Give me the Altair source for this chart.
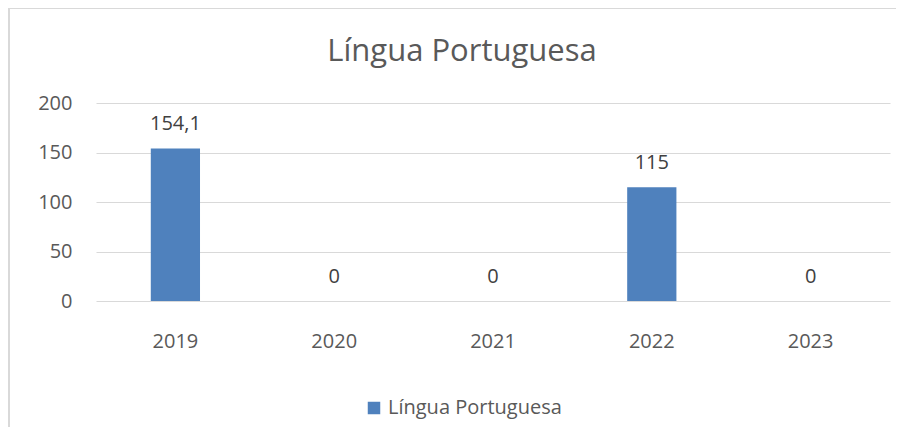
import altair as alt
import pandas as pd

anos = ["2019", "2020", "2021", "2022", "2023"]
valores = [154.1, 0, 0, 115, 0]
serie = "Língua Portuguesa"
titulo = "Língua Portuguesa"
y_ticks = [0, 50, 100, 150, 200]

FONT = "Open Sans"
GRAY = "#595959"
BLUE = "#4F81BD"

df = pd.DataFrame({"ano": anos, "valor": valores, "serie": [serie] * len(anos)})

base = alt.Chart(df)

x = alt.X(
    "ano:N",
    sort=anos,
    scale=alt.Scale(paddingInner=0.69, paddingOuter=0.345),
    axis=alt.Axis(
        title=None, labelAngle=0, domain=False, ticks=False, grid=False,
        labelFontSize=20, labelFont=FONT, labelColor=GRAY, labelPadding=30,
    ),
)

bars = base.mark_bar(color=BLUE).encode(
    x=x,
    y=alt.Y(
        "valor:Q",
        scale=alt.Scale(domain=[0, 200], nice=False),
        axis=alt.Axis(
            title=None, values=y_ticks, domain=False, ticks=False,
            gridColor="#d9d9d9", gridWidth=1,
            labelFontSize=20, labelFont=FONT, labelColor=GRAY, labelPadding=24,
        ),
    ),
    color=alt.Color(
        "serie:N",
        scale=alt.Scale(range=[BLUE]),
        legend=alt.Legend(
            title=None, orient="none", legendX=268, legendY=295,
            symbolType="square", symbolSize=156, symbolStrokeWidth=0,
            labelFontSize=20, labelFont=FONT, labelColor=GRAY, labelOffset=4,
            labelLimit=0, padding=0,
        ),
    ),
)

labels = base.transform_calculate(
    rotulo="replace(format(datum.valor, '.1~f'), '.', ',')"
).mark_text(
    baseline="middle", dy=-24, fontSize=20, font=FONT, color="#404040"
).encode(
    x=alt.X("ano:N", sort=anos),
    y="valor:Q",
    text="rotulo:N",
)

deco = alt.Data(values=[{"t": titulo}])

border = alt.Chart(deco).mark_rect(
    fill="transparent", stroke="#d9d9d9", strokeWidth=2
).encode(
    x=alt.value(-87), x2=alt.value(1000), y=alt.value(-95), y2=alt.value(1000)
)

title_mark = alt.Chart(deco).mark_text(
    fontSize=31, font=FONT, color=GRAY, align="center", baseline="alphabetic"
).encode(
    x=alt.value(366), y=alt.value(-42), text="t:N"
)

chart = (
    alt.layer(border, bars, labels, title_mark)
    .properties(
        width=794,
        height=198,
        autosize=alt.AutoSizeParams(type="none"),
        padding={"left": 88, "top": 95, "right": 6, "bottom": 126},
        background="white",
    )
    .configure_view(stroke=None)
)

chart.save("out.html", embed_options={"renderer": "svg", "actions": False})
